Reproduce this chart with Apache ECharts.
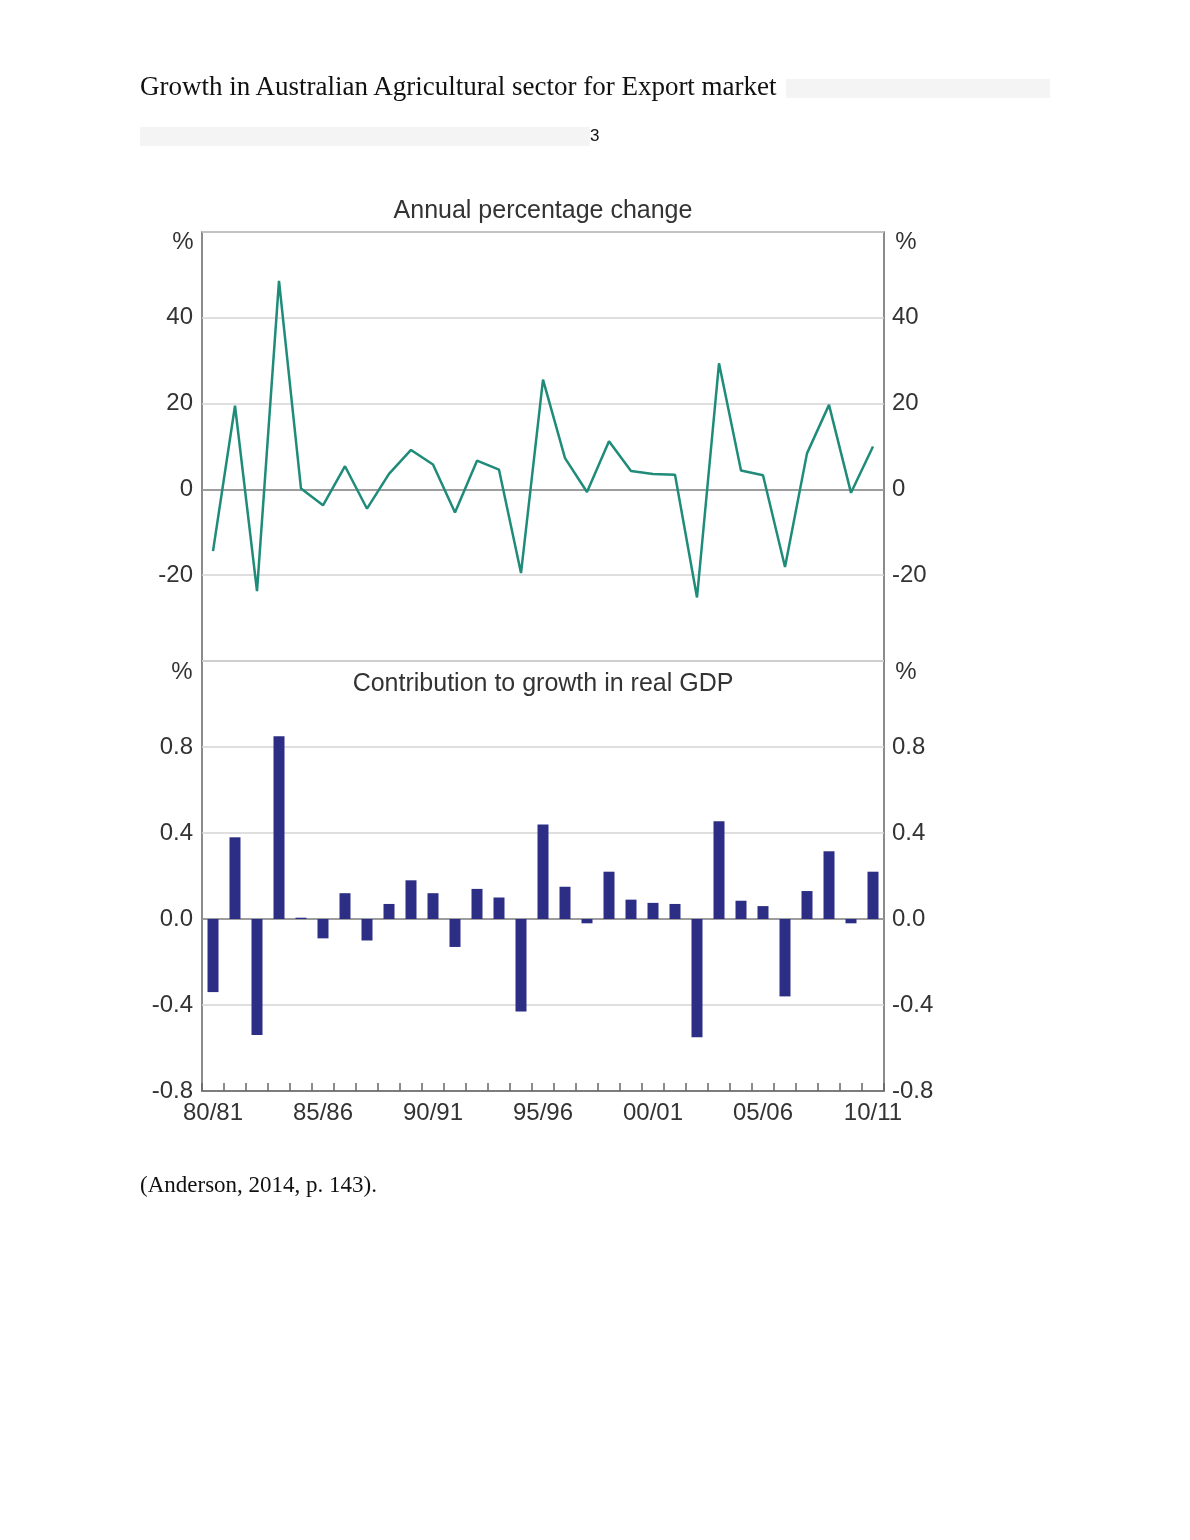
<!DOCTYPE html>
<html lang="en">
<head>
    <meta charset="UTF-8">
    <title>Growth in Australian Agricultural sector for Export market</title>
    <style>
        *{margin: 0; padding: 0;}
        body,html{width: 1190px; height: 1540px; background: #fff; overflow: hidden;}
        #chart{position: absolute; left: 0; top: 0; width: 1190px; height: 1540px;}
        .doc{position: absolute; font-family: "Liberation Serif", serif; color: #111; white-space: nowrap;}
        .head{left: 140px; top: 71px; font-size: 27px; line-height: 31px;}
        .cap{left: 140px; top: 1171px; font-size: 23px; line-height: 27px;}
        .blank{position: absolute; background: #f4f4f4;}
        .pg{position: absolute; left: 590px; top: 126px; font-family: "Liberation Sans", sans-serif; font-size: 17px; line-height: 20px; color: #111;}
    </style>
</head>
<body>
<div id="chart"></div>
<div class="doc head">Growth in Australian Agricultural sector for Export market</div>
<div class="blank" style="left:786px; top:79px; width:264px; height:19px;"></div>
<div class="blank" style="left:140px; top:127px; width:450px; height:19px;"></div>
<div class="pg">3</div>
<div class="doc cap">(Anderson, 2014, p. 143).</div>

<script src="https://cdn.jsdelivr.net/npm/echarts@6/dist/echarts.min.js"></script>
<script>
// financial years 80/81 .. 10/11
var years = ['80/81','81/82','82/83','83/84','84/85','85/86','86/87','87/88','88/89','89/90',
             '90/91','91/92','92/93','93/94','94/95','95/96','96/97','97/98','98/99','99/00',
             '00/01','01/02','02/03','03/04','04/05','05/06','06/07','07/08','08/09','09/10','10/11'];

// annual percentage change
var annualChange = [-14.4, 19.5, -23.7, 48.6, 0.2, -3.7, 5.4, -4.5, 3.6, 9.2,
                    5.8, -5.4, 6.7, 4.6, -19.5, 25.6, 7.3, -0.6, 11.2, 4.3,
                    3.6, 3.4, -25.2, 29.4, 4.4, 3.3, -18.1, 8.4, 19.7, -0.8, 10.0];

// contribution to growth in real GDP, ppt
var gdpContribution = [-0.34, 0.38, -0.54, 0.85, 0.006, -0.09, 0.12, -0.10, 0.07, 0.18,
                       0.12, -0.13, 0.14, 0.10, -0.43, 0.44, 0.15, -0.02, 0.22, 0.09,
                       0.075, 0.07, -0.55, 0.455, 0.085, 0.06, -0.36, 0.13, 0.315, -0.02, 0.22];

var topTicks = [-40, 60, 20];      // min, max, interval
var bottomTicks = [-0.8, 1.2, 0.4];

var txt = '#333';
var font = '"Liberation Sans", Arial, sans-serif';
var frame = '#666';

function yAx(grid, pos, t, hideMin, fmt) {
    return {
        type: 'value', gridIndex: grid, position: pos,
        min: t[0], max: t[1], interval: t[2],
        axisLine: {show: false}, axisTick: {show: false},
        splitLine: {show: pos == 'left', lineStyle: {color: '#d4d4d4', width: 1.5}},
        axisLabel: {
            color: txt, fontFamily: font, fontSize: 24, margin: pos == 'left' ? 9 : 8,
            formatter: function (v) {
                if (v >= t[1] - 1e-9) return '';
                if (hideMin && v <= t[0] + 1e-9) return '';
                return fmt(v);
            }
        }
    };
}

var myChart = echarts.init(document.getElementById('chart'));
var option = {
    animation: false,
    grid: [
        {left: 202, top: 232, width: 682, height: 429, show: true, borderColor: frame, borderWidth: 1.5, backgroundColor: 'transparent'},
        {left: 202, top: 661, width: 682, height: 430, show: true, borderColor: frame, borderWidth: 1.5, backgroundColor: 'transparent'}
    ],
    xAxis: [
        {type: 'category', gridIndex: 0, data: years,
         axisLine: {onZero: true, lineStyle: {color: '#888', width: 1.5}},
         axisTick: {show: false}, axisLabel: {show: false}},
        {type: 'category', gridIndex: 1, data: years, position: 'bottom',
         axisLine: {onZero: false, lineStyle: {color: frame, width: 1.5}},
         axisTick: {show: true, inside: true, interval: 0, length: 8, lineStyle: {color: frame, width: 1.5}},
         axisLabel: {color: txt, fontFamily: font, fontSize: 24, margin: 10, interval: 4}},
        {type: 'category', gridIndex: 1, data: years, position: 'top',
         axisLine: {onZero: true, lineStyle: {color: '#888', width: 1.5}},
         axisTick: {show: false}, axisLabel: {show: false}}
    ],
    yAxis: [
        yAx(0, 'left', topTicks, true, function (v) { return String(v); }),
        yAx(0, 'right', topTicks, true, function (v) { return String(v); }),
        yAx(1, 'left', bottomTicks, false, function (v) { return v.toFixed(1); }),
        yAx(1, 'right', bottomTicks, false, function (v) { return v.toFixed(1); })
    ],
    graphic: [
        {type: 'text', x: 543, y: 211, style: {text: 'Annual percentage change', fill: txt, font: '25px ' + font, textAlign: 'center', textVerticalAlign: 'middle'}},
        {type: 'text', x: 543, y: 684, style: {text: 'Contribution to growth in real GDP', fill: txt, font: '25px ' + font, textAlign: 'center', textVerticalAlign: 'middle'}},
        {type: 'text', x: 183, y: 242, style: {text: '%', fill: txt, font: '24px ' + font, textAlign: 'center', textVerticalAlign: 'middle'}},
        {type: 'text', x: 906, y: 242, style: {text: '%', fill: txt, font: '24px ' + font, textAlign: 'center', textVerticalAlign: 'middle'}},
        {type: 'text', x: 182, y: 672, style: {text: '%', fill: txt, font: '24px ' + font, textAlign: 'center', textVerticalAlign: 'middle'}},
        {type: 'text', x: 906, y: 672, style: {text: '%', fill: txt, font: '24px ' + font, textAlign: 'center', textVerticalAlign: 'middle'}}
    ],
    series: [
        {name: 'Annual percentage change', type: 'line', xAxisIndex: 0, yAxisIndex: 0,
         data: annualChange, symbol: 'none', lineStyle: {color: '#1f8b79', width: 2.5}},
        {name: 'Contribution to growth in real GDP', type: 'bar', xAxisIndex: 1, yAxisIndex: 2,
         data: gdpContribution, barWidth: 11, itemStyle: {color: '#2c2e85'}}
    ]
};
myChart.setOption(option);
</script>
</body>
</html>
